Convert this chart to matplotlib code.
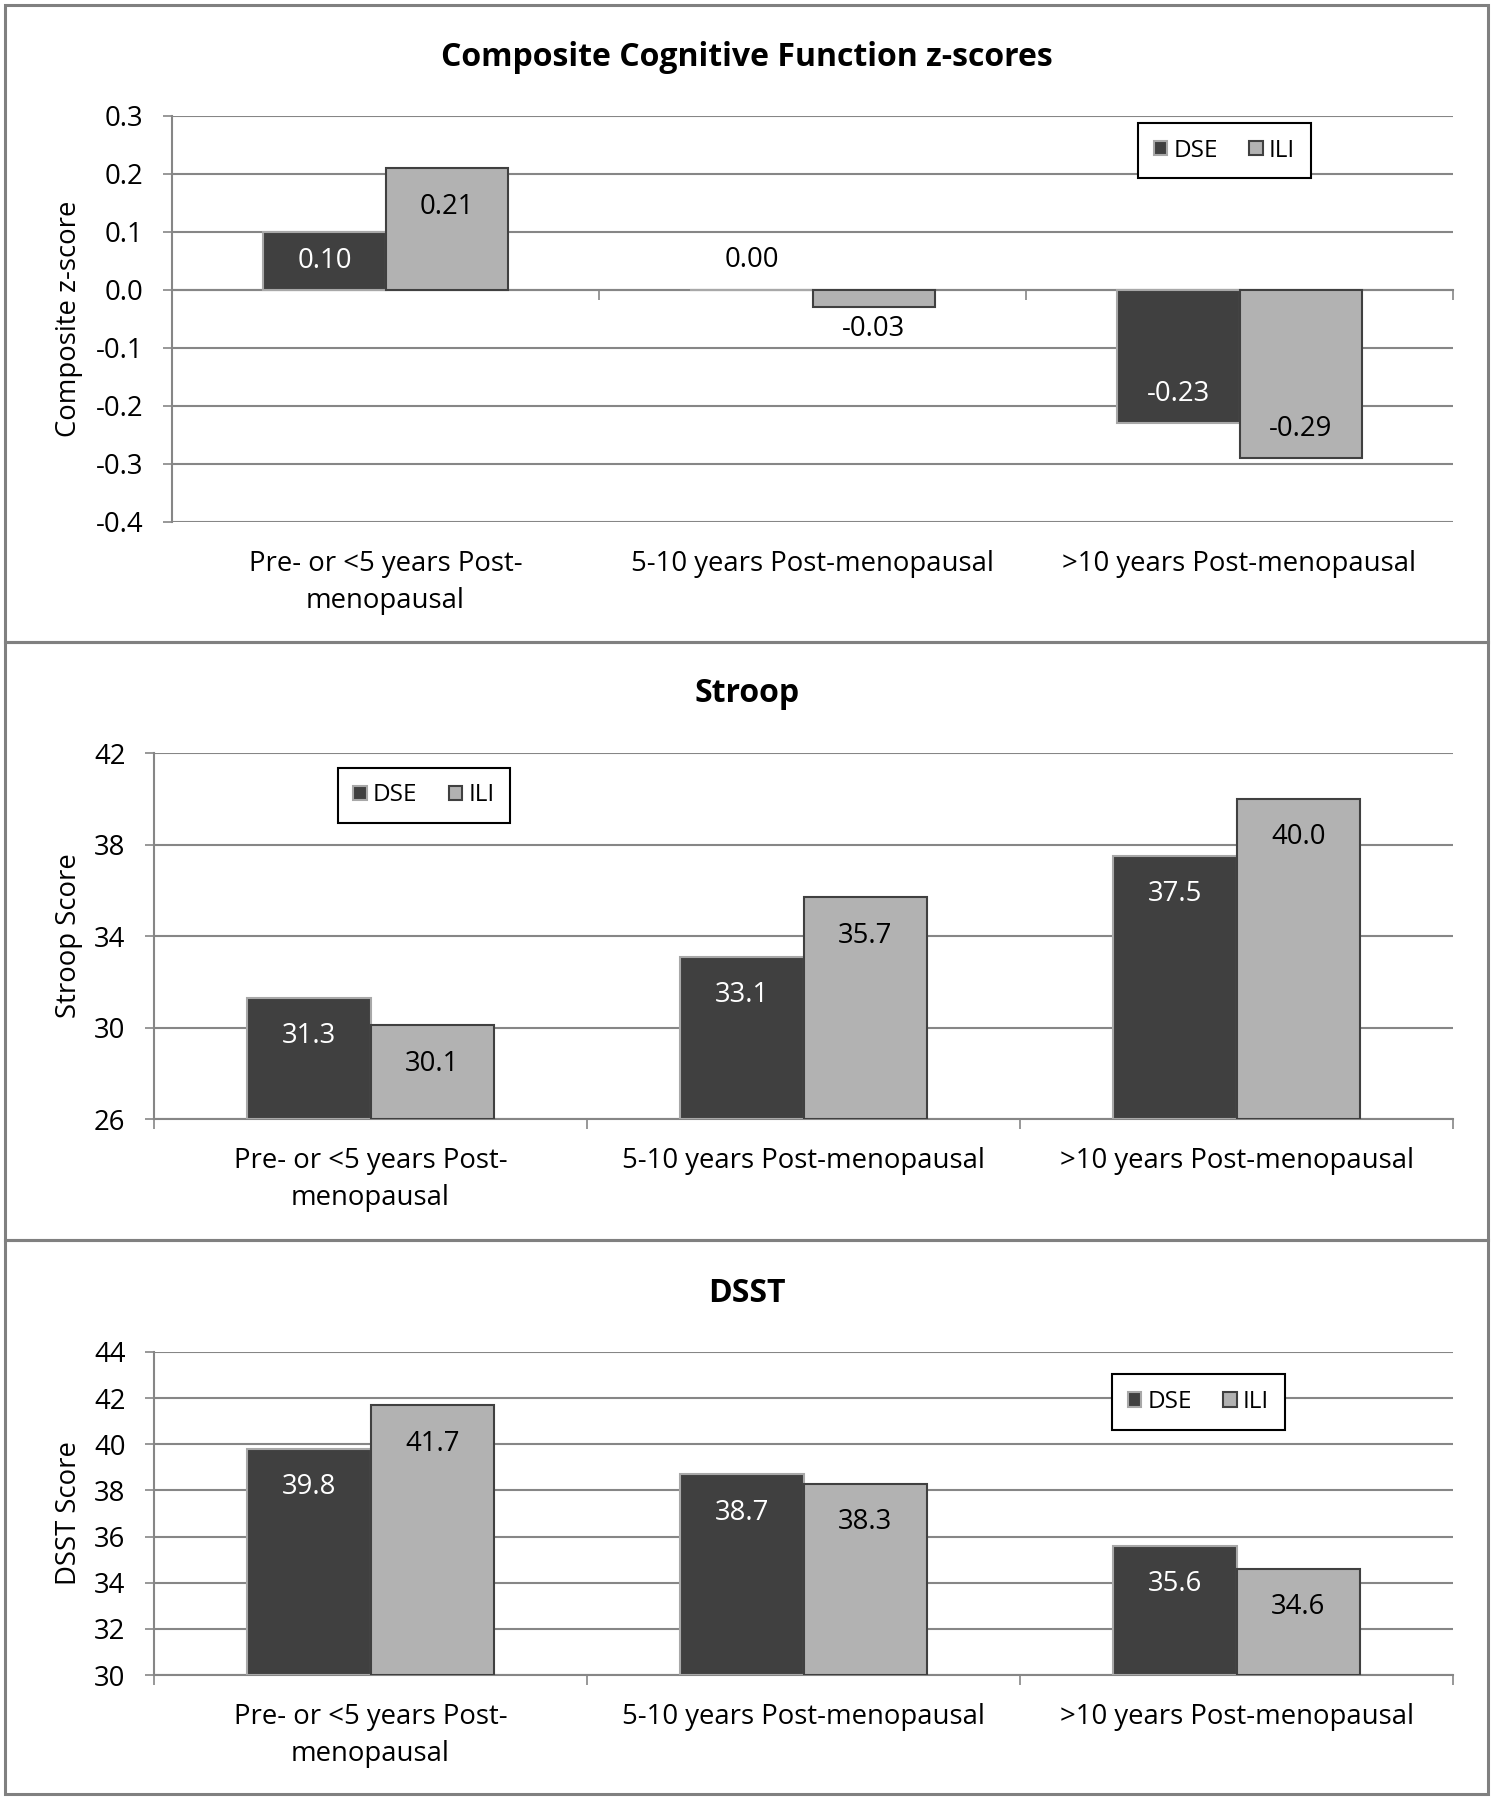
import matplotlib
matplotlib.use("Agg")
import matplotlib.pyplot as plt
from matplotlib.patches import Rectangle
import numpy as np

plt.rcParams['font.family'] = ['Open Sans', 'DejaVu Sans']

# ---------------- data ----------------
categories = ["Pre- or <5 years Post-\nmenopausal",
              "5-10 years Post-menopausal",
              ">10 years Post-menopausal"]
series_names = ["DSE", "ILI"]

composite_dse = [0.10, 0.00, -0.23]
composite_ili = [0.21, -0.03, -0.29]
composite_ticks = [-0.4, -0.3, -0.2, -0.1, 0.0, 0.1, 0.2, 0.3]

stroop_dse = [31.3, 33.1, 37.5]
stroop_ili = [30.1, 35.7, 40.0]
stroop_ticks = [26, 30, 34, 38, 42]

dsst_dse = [39.8, 38.7, 35.6]
dsst_ili = [41.7, 38.3, 34.6]
dsst_ticks = [30, 32, 34, 36, 38, 40, 42, 44]

titles = ["Composite Cognitive Function z-scores", "Stroop", "DSST"]
ylabels = ["Composite z-score", "Stroop Score", "DSST Score"]

# ---------------- style ----------------
W, H = 1494, 1800
DPI = 100
DSE_FACE, DSE_EDGE = "#404040", "#a8a8a8"
ILI_FACE, ILI_EDGE = "#b2b2b2", "#404040"
GRID = "#868686"
FS = 19.8

fig = plt.figure(figsize=(W / DPI, H / DPI), dpi=DPI)


def frac_rect(l, t, r, b):
    return [l / W, 1 - b / H, (r - l) / W, (b - t) / H]


panels = [
    dict(rect=frac_rect(172, 116, 1453, 522), dse=composite_dse, ili=composite_ili,
         ticks=composite_ticks, fmt="{:.1f}", vfmt="{:.2f}", base=0.0,
         leg=(0.8216, 0.915), title_y=57.5, box=(5, 642), ylab_x=83),
    dict(rect=frac_rect(154, 753, 1453, 1119), dse=stroop_dse, ili=stroop_ili,
         ticks=stroop_ticks, fmt="{:.0f}", vfmt="{:.1f}", base=None,
         leg=(0.2078, 0.884), title_y=693.5, box=(642, 1240), ylab_x=83),
    dict(rect=frac_rect(154, 1352, 1453, 1675), dse=dsst_dse, ili=dsst_ili,
         ticks=dsst_ticks, fmt="{:.0f}", vfmt="{:.1f}", base=None,
         leg=(0.804, 0.845), title_y=1293.5, box=(1240, 1794), ylab_x=83),
]

bw = 0.286
x = np.arange(len(categories))

for i, p in enumerate(panels):
    # panel border
    y0, y1 = p["box"]
    fig.add_artist(Rectangle((5 / W, 1 - y1 / H), (1488 - 5) / W, (y1 - y0) / H,
                             transform=fig.transFigure, fill=False,
                             edgecolor="#808080", lw=2.2, zorder=0))
    ax = fig.add_axes(p["rect"])
    ticks = p["ticks"]
    ymin, ymax = ticks[0], ticks[-1]
    base = p["base"] if p["base"] is not None else ymin
    ax.set_xlim(-0.5, len(categories) - 0.5)
    ax.set_ylim(ymin, ymax)

    dse = np.array(p["dse"])
    ili = np.array(p["ili"])
    b1 = ax.bar(x - bw / 2, dse - base, bottom=base, width=bw, color=DSE_FACE,
                edgecolor=DSE_EDGE, lw=1.5, label=series_names[0], zorder=3)
    b2 = ax.bar(x + bw / 2, ili - base, bottom=base, width=bw, color=ILI_FACE,
                edgecolor=ILI_EDGE, lw=1.5, label=series_names[1], zorder=3)

    # y axis
    ax.set_yticks(ticks)
    ax.set_yticklabels([p["fmt"].format(t) for t in ticks], fontsize=FS)
    ax.yaxis.grid(True, color=GRID, lw=1.5)
    ax.set_axisbelow(True)
    ax.tick_params(axis="y", direction="out", length=6.5, width=1.2, color=GRID, pad=14)
    for s in ["top", "right"]:
        ax.spines[s].set_visible(False)
    ax.spines["left"].set_color(GRID)
    ax.spines["left"].set_linewidth(1.5)
    ax.set_ylabel(ylabels[i], fontsize=FS)
    ax.yaxis.set_label_coords((p["ylab_x"] - p["rect"][0] * W) / (p["rect"][2] * W), 0.5)

    # x axis: category labels at bottom
    ax.set_xticks(x)
    ax.set_xticklabels(categories, fontsize=FS, linespacing=1.42)
    ax.tick_params(axis="x", length=0, pad=20)
    bounds = np.arange(len(categories) + 1) - 0.5
    if p["base"] is not None and ymin < p["base"]:
        ax.spines["bottom"].set_visible(False)
        loc = (p["base"] - ymin) / (ymax - ymin)
        sec = ax.secondary_xaxis(loc)
        sec.set_alignment("bottom")
        sec.set_xticks(bounds)
        sec.set_xticklabels([])
        sec.tick_params(direction="out", length=7, width=1.2, color=GRID)
        sec.spines["bottom"].set_color(GRID)
        sec.spines["bottom"].set_linewidth(1.5)
    else:
        ax.spines["bottom"].set_color(GRID)
        ax.spines["bottom"].set_linewidth(1.5)
        ax.set_xticks(bounds, minor=True)
        ax.tick_params(axis="x", which="minor", direction="out", length=7,
                       width=1.2, color=GRID)

    # value labels
    y_px = ax.transData.transform([[0, ymin], [0, ymax]])[:, 1]
    ppu = (y_px[1] - y_px[0]) / (ymax - ymin)
    k = 72.0 / DPI
    for xs, vals, incol in [(x - bw / 2, dse, "white"), (x + bw / 2, ili, "black")]:
        for xi, v in zip(xs, vals):
            h = abs(v - base) * ppu
            if h < 25:
                off = 30 if v >= base else -21.5
                col = "black"
            else:
                off = -min(38.5, h * 0.5) if v >= base else min(29.5, h / 2)
                col = incol
            ax.annotate(p["vfmt"].format(v), xy=(xi, v), xytext=(0, off * k),
                        textcoords="offset points", ha="center", va="center",
                        fontsize=FS, color=col, zorder=5)

    # legend
    leg = ax.legend(handles=[b1, b2], loc="center", bbox_to_anchor=p["leg"], ncol=2,
                    fontsize=17.5, frameon=True, fancybox=False, framealpha=1,
                    edgecolor="black", handlelength=0.55, handleheight=0.55,
                    handletextpad=0.25, columnspacing=1.3, borderpad=0.65,
                    borderaxespad=0)
    leg.get_frame().set_linewidth(1.5)
    leg.set_zorder(6)

    fig.text(747 / W, 1 - p["title_y"] / H, titles[i], ha="center", va="center",
             fontsize=23, fontweight="bold")

fig.savefig("out.png", dpi=DPI)
